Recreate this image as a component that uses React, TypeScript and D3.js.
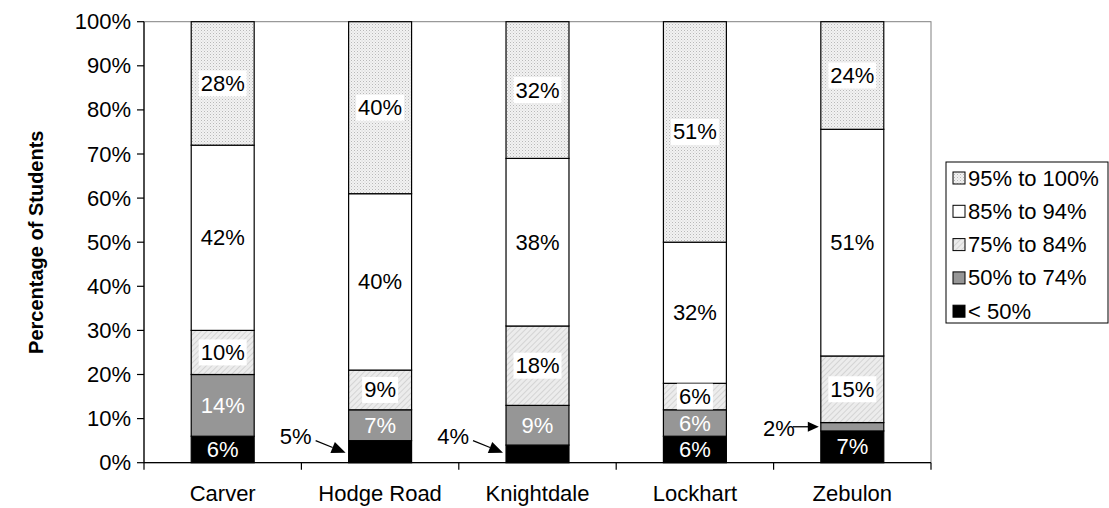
import React from "react";
import * as d3 from "d3";

const schools = ["Carver", "Hodge Road", "Knightdale", "Lockhart", "Zebulon"];
const seriesNames = ["< 50%", "50% to 74%", "75% to 84%", "85% to 94%", "95% to 100%"];
// values per series, bottom to top, one per school
const below50 = [6, 5, 4, 6, 7.2];
const from50to74 = [14, 7, 9, 6, 1.9];
const from75to84 = [10, 9, 18, 6, 15.1];
const from85to94 = [42, 40, 38, 32, 51.4];
const from95to100 = [28, 40, 32, 51, 24.4];
const yTicks = [0, 10, 20, 30, 40, 50, 60, 70, 80, 90, 100];
// labels drawn outside the bar with an arrow: [schoolIndex, seriesIndex, side]
const calloutLabels: [number, number, string][] = [
  [1, 0, "below"],
  [2, 0, "below"],
  [4, 1, "side"],
];

const W = 1109;
const H = 508;
const FONT = "'Liberation Sans', Arial, sans-serif";

export default function App() {
  const left = 144, right = 931, top = 21.7, bottom = 462.7;
  const x = d3.scaleBand<string>().domain(schools).range([left, right]).padding(0);
  const y = d3.scaleLinear().domain([0, 100]).range([bottom, top]).clamp(true);
  const barW = x.step() * 0.4;
  const seriesData = [below50, from50to74, from75to84, from85to94, from95to100];
  const fills = ["#000000", "#969696", "url(#hatch)", "#ffffff", "url(#dots)"];
  const textColors = ["#ffffff", "#ffffff", "#000000", "#000000", "#000000"];
  const labelBg = [false, false, true, false, true];

  const rows = schools.map((s, i) => {
    const obj: any = { school: s };
    seriesNames.forEach((n, k) => (obj[n] = seriesData[k][i]));
    return obj;
  });
  const stack = d3.stack<any>().keys(seriesNames)(rows);
  const isCallout = (i: number, k: number) => calloutLabels.some((c) => c[0] === i && c[1] === k);
  const fs = 22;

  return (
    <svg width={W} height={H} style={{ position: "absolute", left: 0, top: 0, background: "#fff" }} fontFamily={FONT}>
      <defs>
        <pattern id="dots" width="3" height="3" patternUnits="userSpaceOnUse">
          <rect width="3" height="3" fill="#f2f2f2" />
          <rect x="0" y="0" width="1" height="1" fill="#b8b8b8" />
          <rect x="1.5" y="1.5" width="1" height="1" fill="#d0d0d0" />
        </pattern>
        <pattern id="hatch" width="4" height="4" patternUnits="userSpaceOnUse" patternTransform="rotate(45)">
          <rect width="4" height="4" fill="#ececec" />
          <line x1="0" y1="0" x2="0" y2="4" stroke="#c4c4c4" strokeWidth="1.2" />
        </pattern>
      </defs>
      <rect x={0} y={0} width={W} height={H} fill="#fff" />
      {/* plot area border */}
      <rect x={left} y={top} width={right - left} height={bottom - top} fill="none" stroke="#808080" strokeWidth={1} />

      {/* bars */}
      {stack.map((layer, k) =>
        layer.map((d, i) => {
          const bx = (x(schools[i]) as number) + (x.step() - barW) / 2;
          const y0 = y(d[0]);
          const y1 = y(d[1]);
          return (
            <rect key={`b${k}-${i}`} x={bx} y={y1} width={barW} height={Math.max(0, y0 - y1)}
              fill={fills[k]} stroke="#000" strokeWidth={1.2} />
          );
        })
      )}

      {/* labels inside */}
      {stack.map((layer, k) =>
        layer.map((d, i) => {
          if (isCallout(i, k)) return null;
          const cx = (x(schools[i]) as number) + x.step() / 2;
          const cy = (y(d[0]) + y(Math.min(100, d[1]))) / 2;
          const txt = `${Math.round(seriesData[k][i])}%`;
          const tw = txt.length === 3 ? 44 : 32;
          return (
            <g key={`l${k}-${i}`}>
              {labelBg[k] && (
                <rect x={cx - tw / 2 - 2} y={cy - 13} width={tw + 4} height={26} fill="#fff" />
              )}
              <text x={cx} y={cy} textAnchor="middle" dominantBaseline="central" fontSize={fs} fill={textColors[k]}>
                {txt}
              </text>
            </g>
          );
        })
      )}

      {/* callouts with arrows */}
      {calloutLabels.map(([i, k, side], n) => {
        const d = stack[k][i];
        const bx = (x(schools[i]) as number) + (x.step() - barW) / 2;
        const txt = `${Math.round(seriesData[k][i])}%`;
        if (side === "below") {
          const tipX = bx - 3, tipY = y(0) - 10;
          const sx = bx - 33, sy = y(0) - 22;
          const ang = Math.atan2(tipY - sy, tipX - sx);
          const ah = 14, aw = 6;
          const bxp = tipX - ah * Math.cos(ang), byp = tipY - ah * Math.sin(ang);
          const p1 = [bxp + aw * Math.sin(ang), byp - aw * Math.cos(ang)];
          const p2 = [bxp - aw * Math.sin(ang), byp + aw * Math.cos(ang)];
          return (
            <g key={`c${n}`}>
              <text x={sx - 4} y={sy - 4} textAnchor="end" dominantBaseline="central" fontSize={fs}>{txt}</text>
              <line x1={sx} y1={sy} x2={bxp} y2={byp} stroke="#000" strokeWidth={1.3} />
              <polygon points={`${tipX},${tipY} ${p1[0]},${p1[1]} ${p2[0]},${p2[1]}`} fill="#000" />
            </g>
          );
        }
        const cy = (y(d[0]) + y(d[1])) / 2;
        const tipX = bx - 2, tipY = cy;
        const sx = bx - 28, sy = cy;
        return (
          <g key={`c${n}`}>
            <text x={sx + 2} y={sy + 2} textAnchor="end" dominantBaseline="central" fontSize={fs}>{txt}</text>
            <line x1={sx} y1={sy} x2={tipX - 10} y2={tipY} stroke="#000" strokeWidth={1.3} />
            <polygon points={`${tipX},${tipY} ${tipX - 11},${tipY - 5} ${tipX - 11},${tipY + 5}`} fill="#000" />
          </g>
        );
      })}

      {/* y axis */}
      <line x1={left} y1={top} x2={left} y2={bottom} stroke="#000" strokeWidth={1.2} />
      {yTicks.map((t) => (
        <g key={`yt${t}`}>
          <line x1={left - 7} x2={left} y1={y(t)} y2={y(t)} stroke="#000" strokeWidth={1.2} />
          <text x={left - 13} y={y(t)} textAnchor="end" dominantBaseline="central" fontSize={fs}>{`${t}%`}</text>
        </g>
      ))}

      {/* x axis */}
      <line x1={left} y1={bottom} x2={right} y2={bottom} stroke="#000" strokeWidth={1.2} />
      {schools.map((s, i) => (
        <line key={`xt${i}`} x1={x(s) as number} x2={x(s) as number} y1={bottom} y2={bottom + 7} stroke="#000" strokeWidth={1.2} />
      ))}
      <line x1={right} x2={right} y1={bottom} y2={bottom + 7} stroke="#000" strokeWidth={1.2} />
      {schools.map((s) => (
        <text key={`xl${s}`} x={(x(s) as number) + x.step() / 2} y={493} textAnchor="middle" dominantBaseline="central" fontSize={fs}>{s}</text>
      ))}

      {/* y title */}
      <text transform={`translate(36, ${(top + bottom) / 2}) rotate(-90)`} textAnchor="middle" dominantBaseline="central" fontSize={20} fontWeight="bold">
        Percentage of Students
      </text>

      {/* legend */}
      <rect x={946} y={162} width={162} height={161} fill="#fff" stroke="#000" strokeWidth={1} />
      {seriesNames.slice().reverse().map((n, j) => {
        const k = seriesNames.length - 1 - j;
        const cy = 178 + j * 33.3;
        return (
          <g key={`lg${n}`}>
            <rect x={953} y={cy - 6} width={12} height={12} fill={fills[k]} stroke="#000" strokeWidth={1} />
            <text x={968} y={cy} dominantBaseline="central" fontSize={fs}>{n}</text>
          </g>
        );
      })}
    </svg>
  );
}
